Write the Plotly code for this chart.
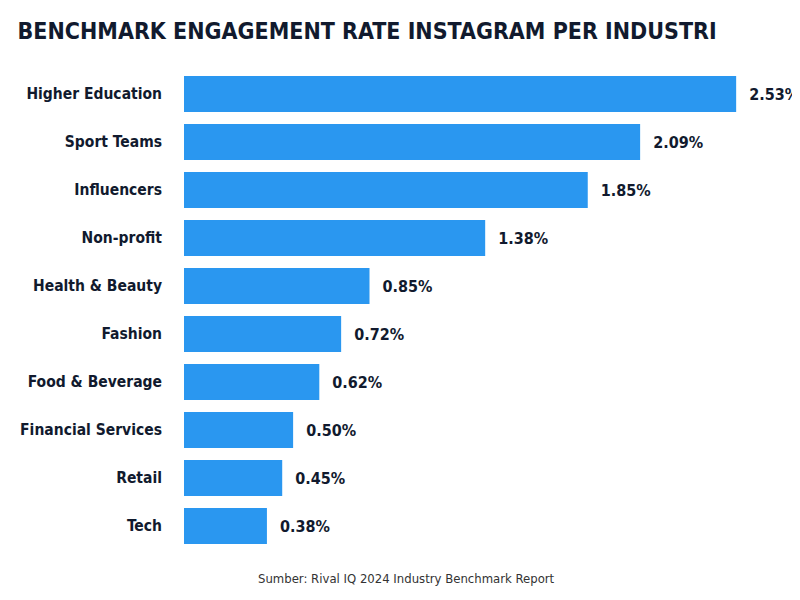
import plotly.graph_objects as go

categories = ["Higher Education", "Sport Teams", "Influencers", "Non-profit", "Health & Beauty",
              "Fashion", "Food & Beverage", "Financial Services", "Retail", "Tech"]
values = [2.53, 2.09, 1.85, 1.38, 0.85, 0.72, 0.62, 0.50, 0.45, 0.38]
labels = [f"  {v:.2f}%" for v in values]

font = "DejaVu Sans Condensed"
fig = go.Figure(go.Bar(
    x=values, y=categories, orientation="h",
    marker=dict(color="#2a97f0", line=dict(width=0)),
    text=labels, textposition="outside", cliponaxis=False,
    textfont=dict(family=font, size=16, color="#111a2e", weight="bold"),
))
fig.update_layout(
    width=800, height=600, paper_bgcolor="white", plot_bgcolor="white",
    margin=dict(l=176, r=2, t=62, b=58, autoexpand=False), bargap=0.25, showlegend=False,
    title=dict(text="BENCHMARK ENGAGEMENT RATE INSTAGRAM PER INDUSTRI", x=0.012, xanchor="left",
               y=0.962, yanchor="middle",
               font=dict(family=font, size=23, color="#111a2e", weight="bold")),
    xaxis=dict(range=[0, 2.85], visible=False),
    yaxis=dict(autorange="reversed", showgrid=False, ticks="", ticklabelstandoff=21, automargin=False,
               tickfont=dict(family=font, size=15.5, color="#111a2e", weight="bold")),
    annotations=[dict(text="Sumber: Rival IQ 2024 Industry Benchmark Report",
                      xref="paper", yref="paper", x=(398-176)/622, y=-0.04, xanchor="center",
                      yanchor="top", showarrow=False, font=dict(family=font, size=13, color="#333"))],
)
fig.write_html("out.html")
